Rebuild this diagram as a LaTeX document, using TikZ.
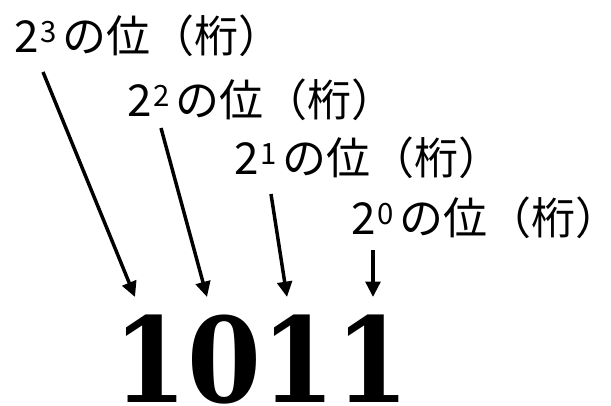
\documentclass[tikz,border=0pt]{standalone}
\usepackage{fontspec}
\setmainfont{Noto Sans CJK JP}
\newfontfamily\digitfont[FakeStretch=0.9]{DejaVu Serif}
\usetikzlibrary{arrows.meta}
\newcommand{\pw}[1]{2\hspace{1pt}\raisebox{8pt}{\fontsize{22}{22}\selectfont #1}\hspace{5pt}}
\begin{document}
\begin{tikzpicture}[x=0.75pt,y=-0.75pt,
  lbl/.style={font=\fontsize{33}{36}\selectfont, inner sep=0, anchor=base west},
  arr/.style={line width=2.6pt, -{Triangle[length=11.5pt,width=11pt]}}]
\useasboundingbox (0,0) rectangle (611,406);
\node[lbl] (l3) at (14,53) {\pw{3}の位（桁）};
\node[lbl] (l2) at (127,117) {\pw{2}の位（桁）};
\node[lbl] (l1) at (234,175) {\pw{1}の位（桁）};
\node[lbl] (l0) at (351,235) {\pw{0}の位（桁）};
\node[font=\digitfont\bfseries\fontsize{88.5}{90}\selectfont, inner sep=0, text depth=0pt, anchor=base west] (num) at (113,402) {1011};
\coordinate (s3) at (43,72);
\coordinate (s2) at (161,128);
\coordinate (s1) at (271,194);
\coordinate (s0) at (373,250);
\coordinate (e3) at (135,297);
\coordinate (e2) at (207,297);
\coordinate (e1) at (287,297);
\coordinate (e0) at (373,297);
\draw[arr] (s3) -- (e3);
\draw[arr] (s2) -- (e2);
\draw[arr] (s1) -- (e1);
\draw[arr] (s0) -- (e0);
\end{tikzpicture}
\end{document}
